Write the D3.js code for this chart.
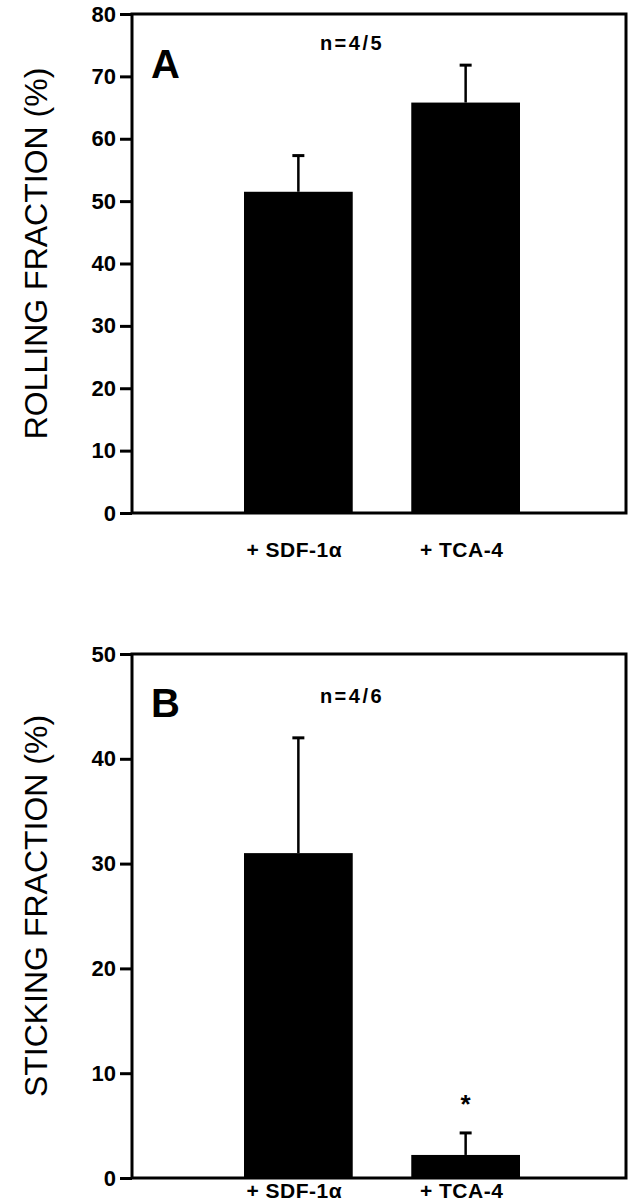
<!DOCTYPE html>
<html><head><meta charset="utf-8">
<script src="https://cdn.jsdelivr.net/npm/d3@7"></script>
<style>body{margin:0;background:#fff}</style></head>
<body><svg id="c" width="634" height="1200"></svg>
<script>
const categories = ["+ SDF-1α", "+ TCA-4"];
const rollingValues = [51.5, 65.8];
const rollingErrors = [57.3, 71.8];
const stickingValues = [31.0, 2.2];
const stickingErrors = [42.0, 4.3];
const rollingTicks = [0,10,20,30,40,50,60,70,80];
const stickingTicks = [0,10,20,30,40,50];

const svg = d3.select("#c");
const font = "Liberation Sans, Arial, sans-serif";
const L = 132, R = 626;

function panel(top, bottom, max, ticks, vals, errs, letter, nText, ylabel, star, letterY, nY, catY) {
  const y = d3.scaleLinear().domain([0, max]).range([bottom, top]);
  const x = d3.scaleBand().domain(categories).range([244, 520]).paddingInner(0.35);
  const g = svg.append("g");
  const ax = g.append("g").attr("transform", `translate(${L},0)`)
    .call(d3.axisLeft(y).tickValues(ticks).tickSize(12).tickPadding(4).tickFormat(d3.format("d")));
  ax.select(".domain").remove();
  ax.selectAll("line").attr("stroke", "#000").attr("stroke-width", 3);
  ax.selectAll("text").attr("font-family", font).attr("font-weight", "bold").attr("font-size", 22).attr("fill", "#000");
  g.append("rect").attr("x", L).attr("y", top).attr("width", R - L).attr("height", bottom - top)
    .attr("fill", "none").attr("stroke", "#000").attr("stroke-width", 3);
  categories.forEach((c, i) => {
    const cx = x(c) + x.bandwidth() / 2;
    g.append("line").attr("x1", cx).attr("x2", cx).attr("y1", y(vals[i])).attr("y2", y(errs[i]))
      .attr("stroke", "#000").attr("stroke-width", 2.5);
    g.append("line").attr("x1", cx - 6).attr("x2", cx + 6).attr("y1", y(errs[i])).attr("y2", y(errs[i]))
      .attr("stroke", "#000").attr("stroke-width", 3);
    g.append("rect").attr("x", x(c)).attr("y", y(vals[i])).attr("width", x.bandwidth())
      .attr("height", y(0) - y(vals[i])).attr("fill", "#000");
    g.append("text").attr("x", cx - 4).attr("y", catY).attr("text-anchor", "middle")
      .attr("font-family", font).attr("font-weight", "bold").attr("font-size", 21).attr("letter-spacing", 0.5).text(c);
  });
  if (star) {
    const c = categories[1];
    g.append("text").attr("x", x(c) + x.bandwidth() / 2).attr("y", y(star) + 14).attr("text-anchor", "middle")
      .attr("font-family", font).attr("font-weight", "bold").attr("font-size", 26).text("*");
  }
  g.append("text").attr("x", 151).attr("y", letterY).attr("font-family", font).attr("font-weight", "bold")
    .attr("font-size", 40).text(letter);
  g.append("text").attr("x", 352).attr("y", nY).attr("text-anchor", "middle").attr("font-family", font)
    .attr("font-weight", "bold").attr("font-size", 20).attr("letter-spacing", 2.5).text(nText);
  g.append("text").attr("transform", `translate(47,${(top + bottom) / 2 - 10}) rotate(-90)`).attr("text-anchor", "middle")
    .attr("font-family", font).attr("font-size", 32).text(ylabel);
}
panel(14, 513, 80, rollingTicks, rollingValues, rollingErrors, "A", "n=4/5", "ROLLING FRACTION (%)", null, 78, 50, 557);
panel(654, 1178, 50, stickingTicks, stickingValues, stickingErrors, "B", "n=4/6", "STICKING FRACTION (%)", 7.5, 717, 703, 1198);
</script></body></html>
